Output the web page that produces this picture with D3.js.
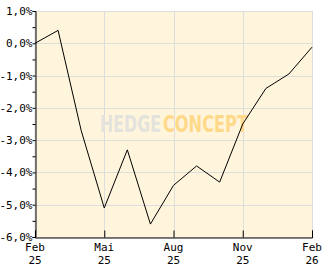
<!DOCTYPE html>
<html>
<head>
<meta charset="utf-8">
<script src="https://cdn.jsdelivr.net/npm/d3@7"></script>
<style>
  body { margin: 0; background: #fff; }
  text { font-family: "DejaVu Sans Mono", monospace; font-size: 11px; fill: #000; }
</style>
</head>
<body>
<svg id="chart" width="332" height="269"></svg>
<script>
// monthly performance, Feb 25 .. Feb 26
const months = d3.range(13);
const values = [0.0, 0.4, -2.7, -5.1, -3.3, -5.6, -4.4, -3.8, -4.3, -2.5, -1.4, -0.95, -0.12];
const yTicks = [1, 0, -1, -2, -3, -4, -5, -6];
const xTickIdx = [0, 3, 6, 9, 12];
const xTickTop = ["Feb", "Mai", "Aug", "Nov", "Feb"];
const xTickBottom = ["25", "25", "25", "25", "26"];

const svg = d3.select("#chart");
const pLeft = 35, pRight = 312, pTop = 11, pBottom = 237;

const x = d3.scaleLinear().domain([0, 12]).range([pLeft, pRight]);
const y = d3.scaleLinear().domain([-6, 1]).range([pBottom, pTop]);

// plot background
svg.append("rect")
    .attr("x", pLeft).attr("y", pTop + 0.5)
    .attr("width", pRight - pLeft + 0.5).attr("height", pBottom - pTop)
    .attr("fill", "#fff5dc")
    .attr("stroke", "#dddddd");

// grid
svg.append("g").selectAll("line").data(yTicks).enter().append("line")
    .attr("x1", pLeft).attr("x2", pRight)
    .attr("y1", d => Math.round(y(d)) + 0.5).attr("y2", d => Math.round(y(d)) + 0.5)
    .attr("stroke", "#dddddd");
svg.append("g").selectAll("line").data(xTickIdx).enter().append("line")
    .attr("x1", d => Math.round(x(d)) + 0.5).attr("x2", d => Math.round(x(d)) + 0.5)
    .attr("y1", pTop).attr("y2", pBottom)
    .attr("stroke", "#dddddd");

// watermark, squeezed horizontally to fit
function mark(word, x0, w, color) {
    const g = svg.append("g");
    const t = g.append("text").attr("x", 0).attr("y", 0)
        .style("font-family", "'DejaVu Sans Condensed', sans-serif")
        .style("font-weight", "bold").style("font-size", "23px")
        .style("fill", color).text(word);
    const k = w / t.node().getComputedTextLength();
    g.attr("transform", `translate(${x0},132) scale(${k},1)`);
}
mark("HEDGE", 100, 61, "#e4e2dc");
mark("CONCEPT", 163, 85, "#ffd98a");

// line
const line = d3.line().x((d, i) => x(months[i])).y(d => y(d));
svg.append("path")
    .datum(values)
    .attr("d", line)
    .attr("fill", "none")
    .attr("stroke", "#000")
    .attr("stroke-width", 1);

// y axis
const yAxis = d3.axisLeft(y)
    .tickValues(d3.range(-6, 1.01, 0.5))
    .tickSize(3)
    .tickFormat(d => Number.isInteger(d) ? d.toFixed(1).replace(".", ",") + "%" : "");
const gy = svg.append("g").attr("transform", `translate(${pLeft + 0.5},0)`).call(yAxis);
gy.select(".domain").attr("stroke", "#000");
gy.selectAll(".tick text").attr("x", -3).style("font-family", "'DejaVu Sans Mono', monospace").style("font-size", "11px");

// x axis
const xAxis = d3.axisBottom(x).tickValues(xTickIdx).tickSize(-7).tickFormat("");
const gx = svg.append("g").attr("transform", `translate(0,${pBottom + 0.5})`).call(xAxis);
gx.select(".domain").attr("stroke", "#000");

const lbl = svg.append("g").selectAll("text").data(xTickIdx).enter().append("text")
    .attr("text-anchor", "middle")
    .attr("x", d => x(d));
lbl.append("tspan").attr("x", d => x(d)).attr("y", 251).text((d, i) => xTickTop[i]);
lbl.append("tspan").attr("x", d => x(d)).attr("y", 264).text((d, i) => xTickBottom[i]);
</script>
</body>
</html>
